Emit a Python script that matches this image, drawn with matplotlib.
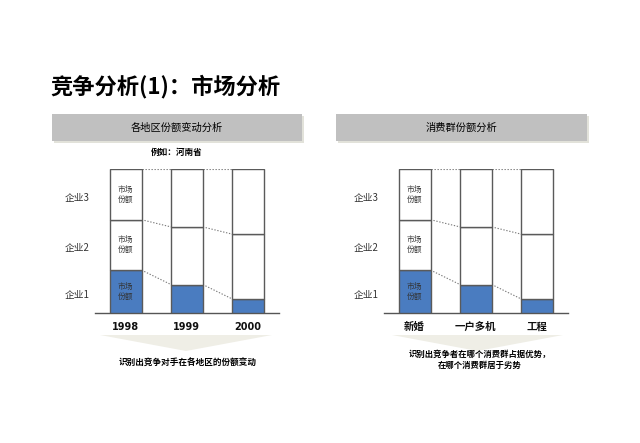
import matplotlib
matplotlib.use("Agg")
import matplotlib.pyplot as plt
import numpy as np
from matplotlib.patches import Rectangle, Polygon

plt.rcParams['font.family'] = ['Noto Sans CJK SC', 'DejaVu Sans']

# ---- data ----
title = "竞争分析(1)：市场分析"
left_header = "各地区份额变动分析"
right_header = "消费群份额分析"
left_note = "例如：河南省"
left_footer = "识别出竞争对手在各地区的份额变动"
right_footer = "识别出竞争者在哪个消费群占据优势，\n在哪个消费群居于劣势"

left_categories = ["1998", "1999", "2000"]
right_categories = ["新婚", "一户多机", "工程"]
company_labels = ["企业1", "企业2", "企业3"]
segment_label = "市场\n份额"

left_c1 = [30, 20, 10]
left_c2 = [35, 40, 45]
left_c3 = [35, 40, 45]

right_c1 = [30, 20, 10]
right_c2 = [35, 40, 45]
right_c3 = [35, 40, 45]

W, H = 640, 443
fig = plt.figure(figsize=(W / 100, H / 100), dpi=100)
fig.patch.set_facecolor("white")

# background axes in pixel coordinates for decorations
bg = fig.add_axes([0, 0, 1, 1])
bg.set_xlim(0, W)
bg.set_ylim(H, 0)
bg.axis("off")

bg.text(50, 86, title, fontsize=16, fontweight="bold", ha="left", va="center", color="black")

BAND = "#c0c0c0"
SHADOW = "#e2e2da"
for (x0, x1, txt) in [(52, 302, left_header), (336, 587, right_header)]:
    bg.add_patch(Rectangle((x0 + 2, 115.5), x1 - x0, 27, facecolor=SHADOW, edgecolor="none"))
    bg.add_patch(Rectangle((x0, 113.5), x1 - x0, 27, facecolor=BAND, edgecolor="none"))
    bg.text((x0 + x1) / 2, 127.5, txt, fontsize=7.4, ha="center", va="center", color="black")

bg.text(177, 152, left_note, fontsize=6.2, fontweight="bold", ha="center", va="center", color="black")

# chevrons
for (x0, x1) in [(100, 272), (392, 563)]:
    cx = (x0 + x1) / 2
    bg.add_patch(Polygon([(x0, 335), (x1, 335), (cx, 351)], closed=True,
                         facecolor="#efeee6", edgecolor="none"))

bg.text(188, 363, left_footer, fontsize=6.2, fontweight="bold", ha="center", va="center", color="black")
bg.text(480, 360, right_footer, fontsize=6.0, fontweight="bold", ha="center", va="center",
        color="black", linespacing=1.25)

BLUE = "#4a7cc0"
EDGE = "#5a5a5a"


def draw_chart(left_px, cats, c1, c2, c3, tick_fs, tick_family):
    ax = fig.add_axes([left_px / W, 1 - 313.3 / H, 183.6 / W, 144 / H])
    ax.set_xlim(-0.5, 2.5)
    ax.set_ylim(0, 100)
    ax.patch.set_alpha(0)
    x = np.arange(len(cats))
    c1 = np.array(c1, float)
    c2 = np.array(c2, float)
    c3 = np.array(c3, float)
    bw = 0.52
    ax.bar(x, c1, width=bw, color=BLUE, edgecolor=EDGE, linewidth=1.0, zorder=3)
    ax.bar(x, c2, width=bw, bottom=c1, color="white", edgecolor=EDGE, linewidth=1.0, zorder=3)
    ax.bar(x, c3, width=bw, bottom=c1 + c2, color="white", edgecolor=EDGE, linewidth=1.0, zorder=3)
    # dotted connectors
    levels = [c1, c1 + c2, c1 + c2 + c3]
    for lv in levels:
        for i in range(len(x) - 1):
            ax.plot([x[i] + bw / 2, x[i + 1] - bw / 2], [lv[i], lv[i + 1]],
                    linestyle=(0, (1.2, 1.5)), color="#7a7a7a", linewidth=0.8, zorder=2)
    # segment labels in first bar
    mids = [c1[0] / 2, c1[0] + c2[0] / 2, c1[0] + c2[0] + c3[0] / 2]
    for m in mids:
        ax.text(x[0], m, segment_label, fontsize=5.6, ha="center", va="center",
                color="#333333", linespacing=1.3, zorder=4)
    for s in ["top", "right", "left"]:
        ax.spines[s].set_visible(False)
    ax.spines["bottom"].set_color("#555555")
    ax.spines["bottom"].set_linewidth(1.0)
    ax.set_yticks([m - 1.5 for m in mids])
    ax.set_yticklabels(company_labels, fontsize=7, color="#333333")
    ax.tick_params(axis="y", length=0, pad=4)
    ax.set_xticks(x)
    ax.set_xticklabels(cats, fontsize=tick_fs, fontweight="bold", color="#111111",
                       family=tick_family)
    ax.tick_params(axis="x", length=0, pad=6)
    return ax


draw_chart(95, left_categories, left_c1, left_c2, left_c3, 7, ["DejaVu Sans"])
draw_chart(384, right_categories, right_c1, right_c2, right_c3, 7.5,
           ["Noto Sans CJK SC", "DejaVu Sans"])

fig.savefig("out.png", dpi=100, facecolor="white")
